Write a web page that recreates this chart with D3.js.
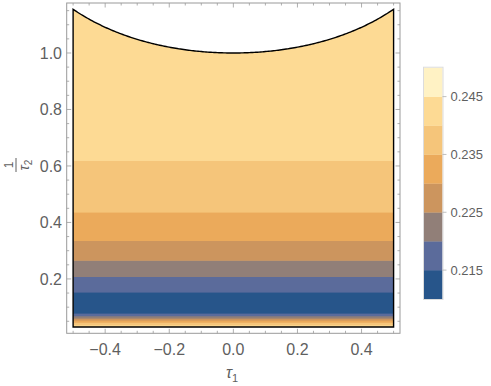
<!DOCTYPE html>
<html><head><meta charset="utf-8">
<script src="https://cdn.jsdelivr.net/npm/d3@7"></script>
<style>body{margin:0;background:#fff;} svg{display:block;}</style>
</head><body>
<svg id="chart" width="491" height="386"></svg>
<script>
// ---- data ----
const levels = [0.21, 0.215, 0.22, 0.225, 0.23, 0.235, 0.24, 0.245, 0.25];
const bandColors = ["#27558A","#5B6B9B","#917F78","#CC955E","#EBAA5B","#F5C57A","#FDDA94","#FFF2C4"];
// horizontal contour bands (value depends on 1/tau2 only)
const bandLower = [0.030, 0.0369, 0.0457, 0.0535, 0.0606, 0.0688, 0.0783, 0.1527, 0.2079, 0.2653, 0.3354, 0.4359, 0.6193];
const bandUpper = [0.0369, 0.0457, 0.0535, 0.0606, 0.0688, 0.0783, 0.1527, 0.2079, 0.2653, 0.3354, 0.4359, 0.6193, 1.20];
const bandLevel = [0.24, 0.235, 0.23, 0.225, 0.22, 0.215, 0.21, 0.215, 0.22, 0.225, 0.23, 0.235, 0.24];
const xTicks = [-0.4, -0.2, 0.0, 0.2, 0.4];
const yTicks = [0.2, 0.4, 0.6, 0.8, 1.0];
const cbTicks = [0.215, 0.225, 0.235, 0.245];
const regionX = [-0.5, 0.5];
const regionYMin = 0.03;

// ---- scales ----
const svg = d3.select("#chart");
const x = d3.scaleLinear([-0.52, 0.52], [66.7, 400]);
const y = d3.scaleLinear([0.0075, 1.177], [333.3, 3]);
const color = d3.scaleThreshold().domain(levels.slice(1, -1)).range(bandColors);

// region: |tau| >= 1, |tau1| <= 1/2  => 1/tau2 <= 1/sqrt(1 - tau1^2)
const topCurve = d3.range(0, 201).map(i => {
  const t = regionX[0] + (regionX[1] - regionX[0]) * i / 200;
  return [t, 1 / Math.sqrt(1 - t * t)];
});
const regionPts = [[regionX[0], regionYMin], ...topCurve, [regionX[1], regionYMin]];
const line = d3.line().x(d => x(d[0])).y(d => y(d[1]));
const regionPath = line(regionPts) + "Z";

svg.append("clipPath").attr("id", "reg").append("path").attr("d", regionPath);

const gBands = svg.append("g").attr("clip-path", "url(#reg)");
gBands.selectAll("rect").data(bandLevel).join("rect")
  .attr("x", x(regionX[0]))
  .attr("width", x(regionX[1]) - x(regionX[0]))
  .attr("y", (d, i) => y(bandUpper[i]) - 0.3)
  .attr("height", (d, i) => y(bandLower[i]) - y(bandUpper[i]) + 0.6)
  .attr("fill", d => color(d + 0.001));

svg.append("path").attr("d", regionPath)
  .attr("fill", "none").attr("stroke", "#000").attr("stroke-width", 1.4)
  .attr("stroke-linejoin", "miter");

// ---- frame ----
const fc = "#9a9a9a";
const [fx0, fx1] = x.range(), [fy0, fy1] = [y.range()[1], y.range()[0]];
svg.append("rect").attr("x", fx0).attr("y", fy0).attr("width", fx1 - fx0).attr("height", fy1 - fy0)
  .attr("fill", "none").attr("stroke", fc).attr("stroke-width", 1);

const xMinor = d3.range(-50, 51, 5).map(v => v / 100).filter(v => !xTicks.some(t => Math.abs(t - v) < 1e-6));
const yMinor = d3.range(1, 24).map(v => v * 0.05).filter(v => !yTicks.some(t => Math.abs(t - v) < 1e-6));
const tg = svg.append("g").attr("stroke", fc).attr("stroke-width", 0.8);
function xt(vals, len) {
  vals.forEach(v => {
    tg.append("line").attr("x1", x(v)).attr("x2", x(v)).attr("y1", fy1).attr("y2", fy1 - len);
    tg.append("line").attr("x1", x(v)).attr("x2", x(v)).attr("y1", fy0).attr("y2", fy0 + len);
  });
}
function yt(vals, len) {
  vals.forEach(v => {
    tg.append("line").attr("y1", y(v)).attr("y2", y(v)).attr("x1", fx0).attr("x2", fx0 + len);
    tg.append("line").attr("y1", y(v)).attr("y2", y(v)).attr("x1", fx1).attr("x2", fx1 - len);
  });
}
xt(xTicks, 4.5); xt(xMinor, 2.5); yt(yTicks, 4.5); yt(yMinor, 2.5);

const fmt = d3.format(".1f");
const labCol = "#5f5f5f";
const font = "'Liberation Sans', Arial, sans-serif";
svg.append("g").selectAll("text").data(xTicks).join("text")
  .attr("x", d => x(d)).attr("y", 355).attr("text-anchor", "middle")
  .attr("font-family", font).attr("font-size", 16).attr("fill", labCol)
  .text(d => fmt(d));
svg.append("g").selectAll("text").data(yTicks).join("text")
  .attr("x", 62).attr("y", d => y(d)).attr("dy", "0.35em").attr("text-anchor", "end")
  .attr("font-family", font).attr("font-size", 16).attr("fill", labCol)
  .text(d => fmt(d));

// axis labels
const xl = svg.append("text").attr("x", 232).attr("y", 378).attr("text-anchor", "middle")
  .attr("font-family", font).attr("font-size", 16).attr("fill", labCol);
xl.append("tspan").attr("font-style", "italic").text("τ");
xl.append("tspan").attr("font-size", 11).attr("dy", 4).text("1");

const yl = svg.append("g").attr("transform", "translate(16,165) rotate(-90)");
yl.append("text").attr("x", 0).attr("y", -3).attr("text-anchor", "middle")
  .attr("font-family", font).attr("font-size", 12).attr("fill", labCol).text("1");
yl.append("line").attr("x1", -7).attr("x2", 7).attr("y1", 0).attr("y2", 0)
  .attr("stroke", labCol).attr("stroke-width", 1);
const yt2 = yl.append("text").attr("x", 0).attr("y", 13).attr("text-anchor", "middle")
  .attr("font-family", font).attr("font-size", 14).attr("fill", labCol);
yt2.append("tspan").attr("font-style", "italic").text("τ");
yt2.append("tspan").attr("font-size", 10).attr("dy", 3).text("2");

// ---- colorbar ----
const cb = d3.scaleLinear([levels[0], levels[levels.length - 1]], [299, 67.7]);
const cbX = 424, cbW = 18.5;
const cbg = svg.append("g");
cbg.selectAll("rect").data(bandColors).join("rect")
  .attr("x", cbX).attr("width", cbW)
  .attr("y", (d, i) => cb(levels[i + 1]))
  .attr("height", (d, i) => cb(levels[i]) - cb(levels[i + 1]) + 0.3)
  .attr("fill", d => d);
cbg.append("rect").attr("x", cbX - 0.5).attr("y", cb(levels[levels.length - 1]) - 0.5)
  .attr("width", cbW + 1).attr("height", cb(levels[0]) - cb(levels[levels.length - 1]) + 1)
  .attr("fill", "none").attr("stroke", "#dcdcdc").attr("stroke-width", 1);
cbg.selectAll("line").data(cbTicks).join("line")
  .attr("x1", cbX + cbW).attr("x2", cbX + cbW + 4)
  .attr("y1", d => cb(d)).attr("y2", d => cb(d))
  .attr("stroke", "#b0b0b0").attr("stroke-width", 0.8);
cbg.selectAll("text").data(cbTicks).join("text")
  .attr("x", 450.5).attr("y", d => cb(d)).attr("dy", "0.35em")
  .attr("font-family", font).attr("font-size", 13).attr("fill", labCol)
  .text(d => d3.format(".3f")(d));
</script>
</body></html>
